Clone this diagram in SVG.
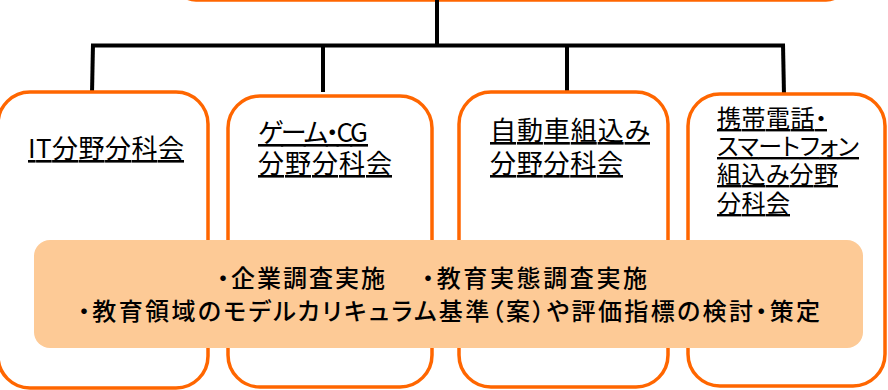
<svg xmlns="http://www.w3.org/2000/svg" width="888" height="390" viewBox="0 0 888 390">
  <style>
    .box { fill: #ffffff; stroke: #ff6600; stroke-width: 3.5; }
    .conn line { stroke: #000000; stroke-width: 4; }
    .lbl { font-family: "Noto Sans CJK JP", "Liberation Sans", sans-serif; fill: #000000; text-decoration: underline; font-feature-settings: "palt"; }
    .l26 { font-size: 26px; }
    .l24 { font-size: 24px; }
    .band { fill: #fdca96; }
    .bt { font-family: "Noto Sans CJK JP", "Liberation Sans", sans-serif; font-size: 24px; font-weight: 500; fill: #000000; font-feature-settings: "palt"; }
  </style>
  <rect width="888" height="390" fill="#ffffff"/>

  <g id="top-node">
    <rect class="box" x="176" y="-60" width="670" height="60" rx="20"/>
  </g>

  <g id="connectors" class="conn">
    <line x1="437" y1="-2" x2="437" y2="47"/>
    <line x1="91" y1="45.5" x2="785" y2="45.5"/>
    <line x1="93" y1="44" x2="92" y2="93"/>
    <line x1="323" y1="44" x2="323" y2="92"/>
    <line x1="567" y1="44" x2="567" y2="91"/>
    <line x1="783" y1="44" x2="784" y2="95"/>
  </g>

  <g id="node-it">
    <rect class="box" x="-2" y="92" width="210" height="296" rx="32"/>
    <text class="lbl l26" x="28" y="158" textLength="156">IT分野分科会</text>
  </g>

  <g id="node-game">
    <rect class="box" x="228" y="96" width="204" height="291" rx="32"/>
    <text class="lbl l26" x="258" y="142" textLength="110">ゲーム・CG</text>
    <text class="lbl l26" x="258" y="173" textLength="134">分野分科会</text>
  </g>

  <g id="node-auto">
    <rect class="box" x="459" y="92" width="209" height="295" rx="32"/>
    <text class="lbl l26" x="490" y="140" textLength="160">自動車組込み</text>
    <text class="lbl l26" x="490" y="173" textLength="133">分野分科会</text>
  </g>

  <g id="node-mobile">
    <rect class="box" x="688" y="94" width="197" height="292" rx="32"/>
    <text class="lbl l24" x="717" y="127" textLength="110">携帯電話・</text>
    <text class="lbl l24" x="717" y="155" textLength="142">スマートフォン</text>
    <text class="lbl l24" x="717" y="183" textLength="121">組込み分野</text>
    <text class="lbl l24" x="717" y="212" textLength="73">分科会</text>
  </g>

  <g id="node-activities">
    <rect class="band" x="34" y="240" width="829" height="108" rx="16"/>
    <text class="bt" x="217" y="287" textLength="168">・企業調査実施</text>
    <text class="bt" x="422" y="287" textLength="225">・教育実態調査実施</text>
    <text class="bt" x="78" y="320" textLength="742">・教育領域のモデルカリキュラム基準（案）や評価指標の検討・策定</text>
  </g>
</svg>
